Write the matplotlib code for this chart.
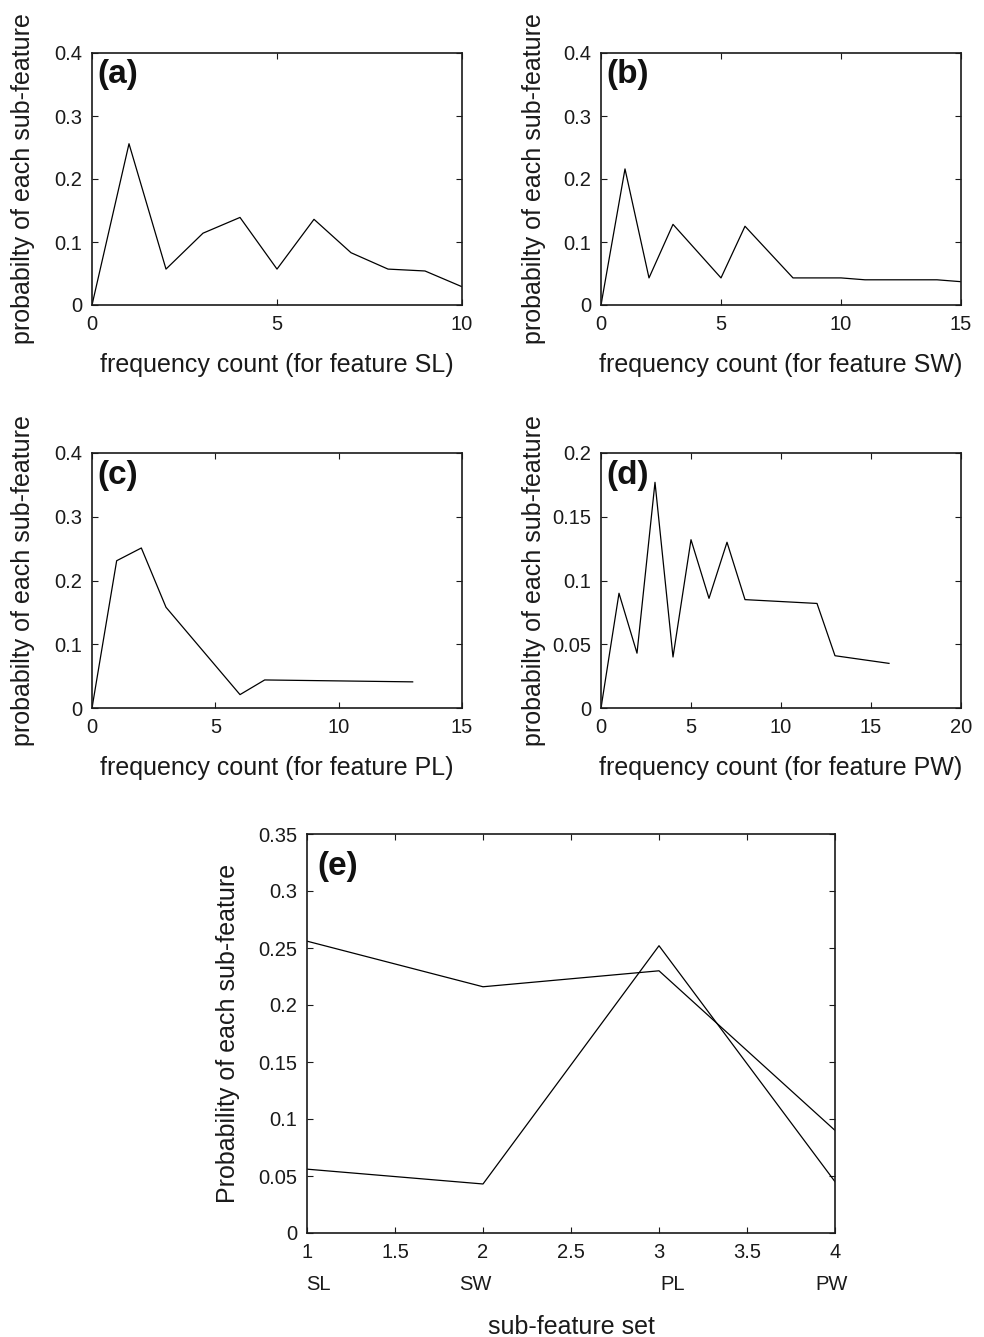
import matplotlib
matplotlib.use("Agg")
import matplotlib.pyplot as plt
from matplotlib.ticker import FuncFormatter

plt.rcParams['font.family'] = ['Liberation Sans', 'DejaVu Sans']

# ---- data ----
sl_x = [0, 1, 2, 3, 4, 5, 6, 7, 8, 9, 10]
sl_y = [0, 0.256, 0.057, 0.114, 0.139, 0.057, 0.136, 0.083, 0.057, 0.054, 0.029]

sw_x = [0, 1, 2, 3, 5, 6, 8, 10, 11, 14, 15]
sw_y = [0, 0.216, 0.043, 0.128, 0.043, 0.125, 0.043, 0.043, 0.040, 0.040, 0.037]

pl_x = [0, 1, 2, 3, 6, 7, 13]
pl_y = [0, 0.231, 0.251, 0.158, 0.021, 0.044, 0.041]

pw_x = [0, 1, 2, 3, 4, 5, 6, 7, 8, 12, 13, 16]
pw_y = [0, 0.090, 0.043, 0.177, 0.040, 0.132, 0.086, 0.130, 0.085, 0.082, 0.041, 0.035]

set_x = [1, 2, 3, 4]
set_line1 = [0.256, 0.216, 0.230, 0.090]
set_line2 = [0.056, 0.043, 0.252, 0.045]
set_names = ['SL', 'SW', 'PL', 'PW']
set_name_pos = [1.0625, 1.955, 3.075, 3.98]

W, H = 984, 1337
fig = plt.figure(figsize=(W / 100, H / 100), dpi=100)

TICK_FS = 14.5
LABEL_FS = 18
TAG_FS = 24
INK = '#1a1a1a'


def rect(l, r, t, b):
    return [l / W, 1 - b / H, (r - l) / W, (b - t) / H]


fmt = FuncFormatter(lambda v, p: '%g' % round(v, 4))


def style(ax, xlim, xticks, ylim, yticks):
    ax.set_xlim(*xlim)
    ax.set_ylim(*ylim)
    ax.set_xticks(xticks)
    ax.set_yticks(yticks)
    ax.xaxis.set_major_formatter(fmt)
    ax.yaxis.set_major_formatter(fmt)
    ax.tick_params(direction='in', top=True, right=True, length=4, width=0.8,
                   labelsize=TICK_FS, pad=7, colors=INK)
    for s in ax.spines.values():
        s.set_linewidth(1.2)
        s.set_color(INK)


panels = [
    (rect(92, 462, 53, 305), sl_x, sl_y, (0, 10), [0, 5, 10], (0, 0.4),
     [0, 0.1, 0.2, 0.3, 0.4], 'frequency count (for feature SL)', '(a)'),
    (rect(601, 961, 53, 305), sw_x, sw_y, (0, 15), [0, 5, 10, 15], (0, 0.4),
     [0, 0.1, 0.2, 0.3, 0.4], 'frequency count (for feature SW)', '(b)'),
    (rect(92, 462, 453, 708), pl_x, pl_y, (0, 15), [0, 5, 10, 15], (0, 0.4),
     [0, 0.1, 0.2, 0.3, 0.4], 'frequency count (for feature PL)', '(c)'),
    (rect(601, 961, 453, 708), pw_x, pw_y, (0, 20), [0, 5, 10, 15, 20], (0, 0.2),
     [0, 0.05, 0.1, 0.15, 0.2], 'frequency count (for feature PW)', '(d)'),
]

for r, xs, ys, xl, xt, yl, yt, xlab, tag in panels:
    ax = fig.add_axes(r)
    ax.plot(xs, ys, color='black', lw=0.9)
    style(ax, xl, xt, yl, yt)
    ax.set_xlabel(xlab, fontsize=LABEL_FS, color=INK)
    ax.set_ylabel('probabilty of each sub-feature', fontsize=LABEL_FS, color=INK)
    ax.xaxis.set_label_coords(0.5, -60 / 253)
    ax.xaxis.label.set_va('center')
    ax.yaxis.set_label_coords(-69 / 370, 0.5)
    ax.yaxis.label.set_va('center')
    ax.text(0.015, 1 - 22 / 253, tag, transform=ax.transAxes, fontsize=TAG_FS,
            fontweight='bold', ha='left', va='center', color='#111111')

ax = fig.add_axes(rect(307, 835, 834, 1233))
ax.plot(set_x, set_line1, color='black', lw=0.9)
ax.plot(set_x, set_line2, color='black', lw=0.9)
style(ax, (1, 4), [1, 1.5, 2, 2.5, 3, 3.5, 4], (0, 0.35),
      [0, 0.05, 0.1, 0.15, 0.2, 0.25, 0.3, 0.35])
for name, pos in zip(set_names, set_name_pos):
    ax.text(pos, -51 / 399 * 0.35, name, fontsize=TICK_FS, ha='center', va='center',
            color=INK, transform=ax.transData)
ax.set_xlabel('sub-feature set', fontsize=LABEL_FS, color=INK)
ax.xaxis.set_label_coords(0.5, -94 / 399)
ax.xaxis.label.set_va('center')
ax.set_ylabel('Probability of each sub-feature', fontsize=LABEL_FS, color=INK)
ax.yaxis.set_label_coords(-79 / 528, 0.5)
ax.yaxis.label.set_va('center')
ax.text(10 / 528, 1 - 33 / 399, '(e)', transform=ax.transAxes, fontsize=TAG_FS,
        fontweight='bold', ha='left', va='center', color='#111111')

fig.savefig('out.png', dpi=100)
